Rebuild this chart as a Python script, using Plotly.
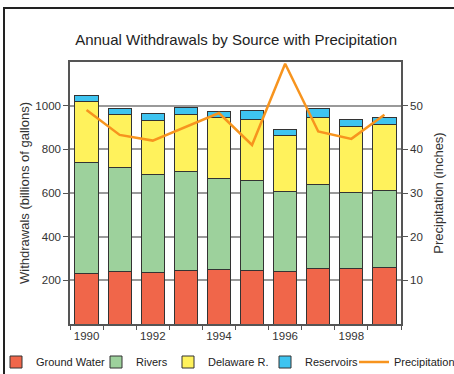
import plotly.graph_objects as go

years = ["1990", "1991", "1992", "1993", "1994", "1995", "1996", "1997", "1998", "1999"]
year_labels = ["1990", "", "1992", "", "1994", "", "1996", "", "1998", ""]
ground_water = [230, 240, 235, 247, 251, 244, 241, 256, 256, 261]
rivers = [510, 475, 450, 450, 416, 415, 365, 383, 347, 351]
delaware = [277, 245, 247, 264, 278, 276, 258, 308, 303, 302]
reservoirs = [30, 27, 32, 29, 29, 41, 28, 38, 32, 33]
precipitation = [49.0, 43.3, 42.0, 45.2, 48.3, 41.0, 59.6, 44.1, 42.4, 47.9]

FONT = "Liberation Sans, Arial, sans-serif"
outline = dict(color="#333333", width=1)

L, R, T, B = 70, 401, 62, 324
W, H = R - L, B - T
def px(x):
    return (x - L) / W
def py(y):
    return (B - y) / H

# legend text start positions (pixels) for each entry
legend_text_x = [36, 136, 208, 305, 394]
legend_ids = ["legend", "legend2", "legend3", "legend4", "legend5"]

fig = go.Figure()
series = [
    ("Ground Water", ground_water, "#F0664A"),
    ("Rivers", rivers, "#9DD19C"),
    ("Delaware R.", delaware, "#FFF25C"),
    ("Reservoirs", reservoirs, "#3EC4F0"),
]
for i, (name, vals, col) in enumerate(series):
    fig.add_trace(go.Bar(x=years, y=vals, name=name, legend=legend_ids[i],
                         marker=dict(color=col, line=outline)))

fig.add_trace(go.Scatter(x=years, y=precipitation, name="Precipitation",
                         yaxis="y2", mode="lines", legend=legend_ids[4],
                         line=dict(color="#F7941E", width=2.5)))

fig.add_shape(type="rect", xref="paper", yref="paper",
              x0=px(4), x1=px(470), y0=py(390), y1=py(8),
              line=dict(color="#222222", width=2), layer="below")

legend_common = dict(orientation="h", xanchor="left", yanchor="middle",
                     y=py(362), itemwidth=30,
                     font=dict(size=11, color="#222222"),
                     bgcolor="rgba(0,0,0,0)", borderwidth=0)
legends = {}
for lid, tx in zip(legend_ids, legend_text_x):
    legends[lid] = dict(legend_common, x=px(tx - 40))

fig.update_layout(
    width=454, height=374,
    margin=dict(l=L, r=454 - R, t=T, b=374 - B, autoexpand=False),
    paper_bgcolor="white", plot_bgcolor="white",
    barmode="stack", bargap=0.3,
    font=dict(family=FONT, size=12, color="#333333"),
    title=dict(text="Annual Withdrawals by Source with Precipitation",
               x=0.52, xanchor="center", y=1 - 40 / 374, yanchor="middle",
               font=dict(family=FONT, size=15, color="#222222")),
    xaxis=dict(type="category", tickvals=years, ticktext=year_labels,
               tickson="boundaries", ticks="outside", ticklen=4,
               tickangle=0, automargin=False,
               tickcolor="#555555", showline=True, linecolor="#555555",
               linewidth=1.5, mirror=True, showgrid=False,
               tickfont=dict(size=11.5, color="#333333")),
    yaxis=dict(range=[0, 1200], tickvals=[200, 400, 600, 800, 1000],
               ticks="outside", ticklen=5, tickcolor="#555555",
               automargin=False,
               showline=True, linecolor="#555555", linewidth=1.5,
               showgrid=True, gridcolor="#999999", gridwidth=1.5,
               zeroline=False,
               title=dict(text="Withdrawals (billions of gallons)",
                          font=dict(size=13, color="#333333"), standoff=3),
               tickfont=dict(size=11.5, color="#333333")),
    yaxis2=dict(range=[0, 60], overlaying="y", side="right",
                tickvals=[10, 20, 30, 40, 50], ticks="outside", ticklen=5,
                automargin=False,
                tickcolor="#555555", showline=True, linecolor="#555555",
                linewidth=1.5, showgrid=False, zeroline=False,
                title=dict(text="Precipitation (inches)",
                           font=dict(size=13, color="#333333"), standoff=12),
                tickfont=dict(size=11.5, color="#333333")),
    showlegend=True,
    **legends,
)

fig.write_html("out.html", config={"displayModeBar": False},
               post_script="document.body.style.margin='0';document.body.style.padding='0';")
